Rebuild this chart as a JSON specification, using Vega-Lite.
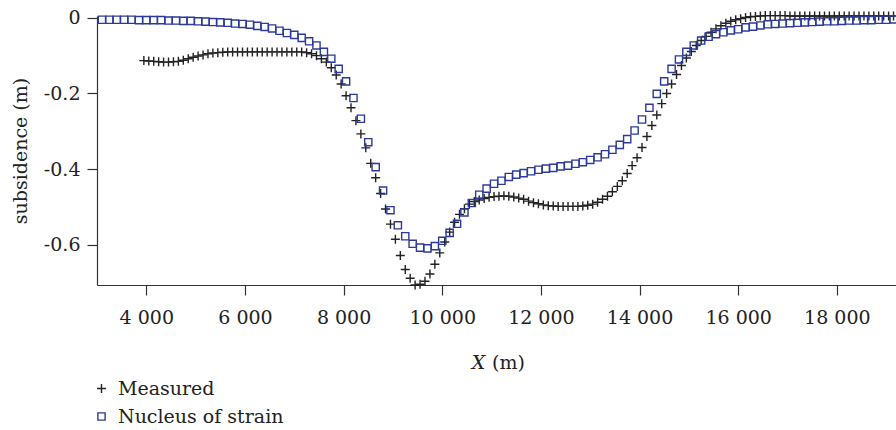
{
  "$schema": "https://vega.github.io/schema/vega-lite/v6.json",
  "width": 799,
  "height": 269,
  "autosize": "none",
  "padding": {"left": 97, "top": 16, "right": 0, "bottom": 145},
  "background": "white",
  "config": {
    "view": {"stroke": null},
    "font": "DejaVu Serif",
    "axis": {
      "domainColor": "#333333",
      "domainWidth": 1.2,
      "tickColor": "#333333",
      "tickWidth": 1.2,
      "tickSize": 10,
      "grid": false,
      "labelFont": "DejaVu Serif",
      "labelFontSize": 19,
      "labelColor": "#222222",
      "titleFont": "DejaVu Serif",
      "titleFontSize": 19,
      "titleFontWeight": "normal",
      "titleColor": "#222222"
    },
    "legend": {
      "labelFont": "DejaVu Serif",
      "labelFontSize": 19,
      "labelColor": "#222222",
      "labelLimit": 400
    }
  },
  "datasets": {
    "pts": [
      {"s":"Measured","x":3950,"y":-0.113},{"s":"Measured","x":4050,"y":-0.114},{"s":"Measured","x":4150,"y":-0.115},{"s":"Measured","x":4250,"y":-0.116},{"s":"Measured","x":4350,"y":-0.117},{"s":"Measured","x":4450,"y":-0.117},{"s":"Measured","x":4550,"y":-0.116},{"s":"Measured","x":4650,"y":-0.115},{"s":"Measured","x":4750,"y":-0.112},{"s":"Measured","x":4850,"y":-0.108},
      {"s":"Measured","x":4950,"y":-0.104},{"s":"Measured","x":5050,"y":-0.101},{"s":"Measured","x":5150,"y":-0.098},{"s":"Measured","x":5250,"y":-0.095},{"s":"Measured","x":5350,"y":-0.093},{"s":"Measured","x":5450,"y":-0.092},{"s":"Measured","x":5550,"y":-0.091},{"s":"Measured","x":5650,"y":-0.090},{"s":"Measured","x":5750,"y":-0.090},{"s":"Measured","x":5850,"y":-0.090},
      {"s":"Measured","x":5950,"y":-0.090},{"s":"Measured","x":6050,"y":-0.090},{"s":"Measured","x":6150,"y":-0.090},{"s":"Measured","x":6250,"y":-0.090},{"s":"Measured","x":6350,"y":-0.090},{"s":"Measured","x":6450,"y":-0.090},{"s":"Measured","x":6550,"y":-0.090},{"s":"Measured","x":6650,"y":-0.090},{"s":"Measured","x":6750,"y":-0.090},{"s":"Measured","x":6850,"y":-0.090},
      {"s":"Measured","x":6950,"y":-0.090},{"s":"Measured","x":7050,"y":-0.090},{"s":"Measured","x":7150,"y":-0.090},{"s":"Measured","x":7250,"y":-0.092},{"s":"Measured","x":7350,"y":-0.095},{"s":"Measured","x":7450,"y":-0.100},{"s":"Measured","x":7550,"y":-0.108},{"s":"Measured","x":7650,"y":-0.117},{"s":"Measured","x":7750,"y":-0.132},{"s":"Measured","x":7850,"y":-0.151},
      {"s":"Measured","x":7950,"y":-0.175},{"s":"Measured","x":8050,"y":-0.206},{"s":"Measured","x":8150,"y":-0.238},{"s":"Measured","x":8250,"y":-0.272},{"s":"Measured","x":8350,"y":-0.307},{"s":"Measured","x":8450,"y":-0.344},{"s":"Measured","x":8550,"y":-0.385},{"s":"Measured","x":8650,"y":-0.423},{"s":"Measured","x":8750,"y":-0.465},{"s":"Measured","x":8850,"y":-0.506},
      {"s":"Measured","x":8950,"y":-0.546},{"s":"Measured","x":9050,"y":-0.586},{"s":"Measured","x":9150,"y":-0.629},{"s":"Measured","x":9250,"y":-0.666},{"s":"Measured","x":9350,"y":-0.689},{"s":"Measured","x":9450,"y":-0.707},{"s":"Measured","x":9550,"y":-0.705},{"s":"Measured","x":9650,"y":-0.697},{"s":"Measured","x":9750,"y":-0.678},{"s":"Measured","x":9850,"y":-0.652},
      {"s":"Measured","x":9950,"y":-0.622},{"s":"Measured","x":10050,"y":-0.593},{"s":"Measured","x":10150,"y":-0.567},{"s":"Measured","x":10250,"y":-0.541},{"s":"Measured","x":10350,"y":-0.520},{"s":"Measured","x":10450,"y":-0.505},{"s":"Measured","x":10550,"y":-0.493},{"s":"Measured","x":10650,"y":-0.486},{"s":"Measured","x":10750,"y":-0.482},{"s":"Measured","x":10850,"y":-0.478},
      {"s":"Measured","x":10950,"y":-0.475},{"s":"Measured","x":11050,"y":-0.473},{"s":"Measured","x":11150,"y":-0.472},{"s":"Measured","x":11250,"y":-0.471},{"s":"Measured","x":11350,"y":-0.472},{"s":"Measured","x":11450,"y":-0.474},{"s":"Measured","x":11550,"y":-0.477},{"s":"Measured","x":11650,"y":-0.480},{"s":"Measured","x":11750,"y":-0.485},{"s":"Measured","x":11850,"y":-0.489},
      {"s":"Measured","x":11950,"y":-0.492},{"s":"Measured","x":12050,"y":-0.495},{"s":"Measured","x":12150,"y":-0.497},{"s":"Measured","x":12250,"y":-0.498},{"s":"Measured","x":12350,"y":-0.499},{"s":"Measured","x":12450,"y":-0.499},{"s":"Measured","x":12550,"y":-0.499},{"s":"Measured","x":12650,"y":-0.499},{"s":"Measured","x":12750,"y":-0.499},{"s":"Measured","x":12850,"y":-0.498},
      {"s":"Measured","x":12950,"y":-0.496},{"s":"Measured","x":13050,"y":-0.493},{"s":"Measured","x":13150,"y":-0.488},{"s":"Measured","x":13250,"y":-0.480},{"s":"Measured","x":13350,"y":-0.472},{"s":"Measured","x":13450,"y":-0.460},{"s":"Measured","x":13550,"y":-0.446},{"s":"Measured","x":13650,"y":-0.431},{"s":"Measured","x":13750,"y":-0.412},{"s":"Measured","x":13850,"y":-0.391},
      {"s":"Measured","x":13950,"y":-0.370},{"s":"Measured","x":14050,"y":-0.343},{"s":"Measured","x":14150,"y":-0.314},{"s":"Measured","x":14250,"y":-0.285},{"s":"Measured","x":14350,"y":-0.257},{"s":"Measured","x":14450,"y":-0.227},{"s":"Measured","x":14550,"y":-0.200},{"s":"Measured","x":14650,"y":-0.175},{"s":"Measured","x":14750,"y":-0.150},{"s":"Measured","x":14850,"y":-0.126},
      {"s":"Measured","x":14950,"y":-0.106},{"s":"Measured","x":15050,"y":-0.089},{"s":"Measured","x":15150,"y":-0.073},{"s":"Measured","x":15250,"y":-0.060},{"s":"Measured","x":15350,"y":-0.049},{"s":"Measured","x":15450,"y":-0.038},{"s":"Measured","x":15550,"y":-0.029},{"s":"Measured","x":15650,"y":-0.021},{"s":"Measured","x":15750,"y":-0.014},{"s":"Measured","x":15850,"y":-0.009},
      {"s":"Measured","x":15950,"y":-0.005},{"s":"Measured","x":16050,"y":-0.002},{"s":"Measured","x":16150,"y":0.001},{"s":"Measured","x":16250,"y":0.003},{"s":"Measured","x":16350,"y":0.004},{"s":"Measured","x":16450,"y":0.005},{"s":"Measured","x":16550,"y":0.006},{"s":"Measured","x":16650,"y":0.006},{"s":"Measured","x":16750,"y":0.006},{"s":"Measured","x":16850,"y":0.006},
      {"s":"Measured","x":16950,"y":0.006},{"s":"Measured","x":17050,"y":0.005},{"s":"Measured","x":17150,"y":0.005},{"s":"Measured","x":17250,"y":0.005},{"s":"Measured","x":17350,"y":0.005},{"s":"Measured","x":17450,"y":0.005},{"s":"Measured","x":17550,"y":0.005},{"s":"Measured","x":17650,"y":0.005},{"s":"Measured","x":17750,"y":0.005},{"s":"Measured","x":17850,"y":0.005},
      {"s":"Measured","x":17950,"y":0.005},{"s":"Measured","x":18050,"y":0.005},{"s":"Measured","x":18150,"y":0.005},{"s":"Measured","x":18250,"y":0.005},{"s":"Measured","x":18350,"y":0.005},{"s":"Measured","x":18450,"y":0.005},{"s":"Measured","x":18550,"y":0.005},{"s":"Measured","x":18650,"y":0.005},{"s":"Measured","x":18750,"y":0.005},{"s":"Measured","x":18850,"y":0.005},
      {"s":"Measured","x":18950,"y":0.005},{"s":"Measured","x":19050,"y":0.005},{"s":"Measured","x":19150,"y":0.005},
      {"s":"Nucleus of strain","x":3100,"y":-0.005},{"s":"Nucleus of strain","x":3250,"y":-0.005},{"s":"Nucleus of strain","x":3400,"y":-0.005},{"s":"Nucleus of strain","x":3550,"y":-0.005},{"s":"Nucleus of strain","x":3700,"y":-0.005},{"s":"Nucleus of strain","x":3850,"y":-0.006},{"s":"Nucleus of strain","x":4000,"y":-0.006},{"s":"Nucleus of strain","x":4150,"y":-0.006},{"s":"Nucleus of strain","x":4300,"y":-0.006},{"s":"Nucleus of strain","x":4450,"y":-0.007},
      {"s":"Nucleus of strain","x":4600,"y":-0.007},{"s":"Nucleus of strain","x":4750,"y":-0.008},{"s":"Nucleus of strain","x":4900,"y":-0.008},{"s":"Nucleus of strain","x":5050,"y":-0.009},{"s":"Nucleus of strain","x":5200,"y":-0.010},{"s":"Nucleus of strain","x":5350,"y":-0.011},{"s":"Nucleus of strain","x":5500,"y":-0.012},{"s":"Nucleus of strain","x":5650,"y":-0.013},{"s":"Nucleus of strain","x":5800,"y":-0.015},{"s":"Nucleus of strain","x":5950,"y":-0.016},
      {"s":"Nucleus of strain","x":6100,"y":-0.018},{"s":"Nucleus of strain","x":6250,"y":-0.021},{"s":"Nucleus of strain","x":6400,"y":-0.024},{"s":"Nucleus of strain","x":6550,"y":-0.028},{"s":"Nucleus of strain","x":6700,"y":-0.034},{"s":"Nucleus of strain","x":6850,"y":-0.040},{"s":"Nucleus of strain","x":7000,"y":-0.045},{"s":"Nucleus of strain","x":7150,"y":-0.053},{"s":"Nucleus of strain","x":7300,"y":-0.062},{"s":"Nucleus of strain","x":7450,"y":-0.073},
      {"s":"Nucleus of strain","x":7600,"y":-0.090},{"s":"Nucleus of strain","x":7750,"y":-0.108},{"s":"Nucleus of strain","x":7900,"y":-0.135},{"s":"Nucleus of strain","x":8050,"y":-0.168},{"s":"Nucleus of strain","x":8200,"y":-0.212},{"s":"Nucleus of strain","x":8350,"y":-0.267},{"s":"Nucleus of strain","x":8500,"y":-0.329},{"s":"Nucleus of strain","x":8650,"y":-0.395},{"s":"Nucleus of strain","x":8800,"y":-0.457},{"s":"Nucleus of strain","x":8950,"y":-0.509},
      {"s":"Nucleus of strain","x":9100,"y":-0.549},{"s":"Nucleus of strain","x":9250,"y":-0.578},{"s":"Nucleus of strain","x":9400,"y":-0.598},{"s":"Nucleus of strain","x":9550,"y":-0.608},{"s":"Nucleus of strain","x":9700,"y":-0.610},{"s":"Nucleus of strain","x":9850,"y":-0.604},{"s":"Nucleus of strain","x":10000,"y":-0.590},{"s":"Nucleus of strain","x":10150,"y":-0.569},{"s":"Nucleus of strain","x":10300,"y":-0.545},{"s":"Nucleus of strain","x":10450,"y":-0.515},
      {"s":"Nucleus of strain","x":10600,"y":-0.490},{"s":"Nucleus of strain","x":10750,"y":-0.468},{"s":"Nucleus of strain","x":10900,"y":-0.452},{"s":"Nucleus of strain","x":11050,"y":-0.439},{"s":"Nucleus of strain","x":11200,"y":-0.431},{"s":"Nucleus of strain","x":11350,"y":-0.421},{"s":"Nucleus of strain","x":11500,"y":-0.415},{"s":"Nucleus of strain","x":11650,"y":-0.411},{"s":"Nucleus of strain","x":11800,"y":-0.406},{"s":"Nucleus of strain","x":11950,"y":-0.402},
      {"s":"Nucleus of strain","x":12100,"y":-0.399},{"s":"Nucleus of strain","x":12250,"y":-0.397},{"s":"Nucleus of strain","x":12400,"y":-0.393},{"s":"Nucleus of strain","x":12550,"y":-0.391},{"s":"Nucleus of strain","x":12700,"y":-0.386},{"s":"Nucleus of strain","x":12850,"y":-0.382},{"s":"Nucleus of strain","x":13000,"y":-0.376},{"s":"Nucleus of strain","x":13150,"y":-0.369},{"s":"Nucleus of strain","x":13300,"y":-0.361},{"s":"Nucleus of strain","x":13450,"y":-0.349},
      {"s":"Nucleus of strain","x":13600,"y":-0.336},{"s":"Nucleus of strain","x":13750,"y":-0.321},{"s":"Nucleus of strain","x":13900,"y":-0.298},{"s":"Nucleus of strain","x":14050,"y":-0.269},{"s":"Nucleus of strain","x":14200,"y":-0.238},{"s":"Nucleus of strain","x":14350,"y":-0.201},{"s":"Nucleus of strain","x":14500,"y":-0.168},{"s":"Nucleus of strain","x":14650,"y":-0.135},{"s":"Nucleus of strain","x":14800,"y":-0.110},{"s":"Nucleus of strain","x":14950,"y":-0.090},
      {"s":"Nucleus of strain","x":15100,"y":-0.073},{"s":"Nucleus of strain","x":15250,"y":-0.060},{"s":"Nucleus of strain","x":15400,"y":-0.050},{"s":"Nucleus of strain","x":15550,"y":-0.043},{"s":"Nucleus of strain","x":15700,"y":-0.038},{"s":"Nucleus of strain","x":15850,"y":-0.033},{"s":"Nucleus of strain","x":16000,"y":-0.030},{"s":"Nucleus of strain","x":16150,"y":-0.025},{"s":"Nucleus of strain","x":16300,"y":-0.023},{"s":"Nucleus of strain","x":16450,"y":-0.020},
      {"s":"Nucleus of strain","x":16600,"y":-0.017},{"s":"Nucleus of strain","x":16750,"y":-0.016},{"s":"Nucleus of strain","x":16900,"y":-0.015},{"s":"Nucleus of strain","x":17050,"y":-0.014},{"s":"Nucleus of strain","x":17200,"y":-0.013},{"s":"Nucleus of strain","x":17350,"y":-0.012},{"s":"Nucleus of strain","x":17500,"y":-0.011},{"s":"Nucleus of strain","x":17650,"y":-0.010},{"s":"Nucleus of strain","x":17800,"y":-0.009},{"s":"Nucleus of strain","x":17950,"y":-0.009},
      {"s":"Nucleus of strain","x":18100,"y":-0.008},{"s":"Nucleus of strain","x":18250,"y":-0.007},{"s":"Nucleus of strain","x":18400,"y":-0.007},{"s":"Nucleus of strain","x":18550,"y":-0.006},{"s":"Nucleus of strain","x":18700,"y":-0.006},{"s":"Nucleus of strain","x":18850,"y":-0.005},{"s":"Nucleus of strain","x":19000,"y":-0.005},{"s":"Nucleus of strain","x":19150,"y":-0.004}
    ]
  },
  "data": {"name": "pts"},
  "resolve": {"axis": {"x": "independent"}},
  "layer": [
    {
      "mark": {"type": "point", "filled": false, "strokeWidth": 1.4, "opacity": 1},
      "encoding": {
        "x": {
          "field": "x", "type": "quantitative",
          "scale": {"domain": [3000, 19200], "nice": false, "zero": false},
          "axis": {
            "orient": "bottom",
            "values": [4000, 6000, 8000, 10000, 12000, 14000, 16000, 18000],
            "labelExpr": "replace(format(datum.value, ','), ',', ' ')",
            "labelPadding": 13,
            "title": "X",
            "titleFontStyle": "italic",
            "titleX": 381,
            "titleY": 83,
            "titleBaseline": "alphabetic",
            "titleAlign": "center"
          }
        },
        "y": {
          "field": "y", "type": "quantitative",
          "scale": {"domain": [-0.707, 0.005], "nice": false, "zero": false},
          "axis": {
            "values": [0, -0.2, -0.4, -0.6],
            "labelExpr": "datum.value == 0 ? '0' : '-' + format(-datum.value, '.1f')",
            "labelPadding": 7,
            "title": "subsidence (m)",
            "titlePadding": 13
          }
        },
        "shape": {
          "field": "s", "type": "nominal",
          "scale": {"domain": ["Measured", "Nucleus of strain"], "range": ["M-1,0H1M0,-1V1", "square"]},
          "legend": {
            "title": null,
            "orient": "none",
            "legendX": -5,
            "legendY": 363,
            "padding": 0,
            "rowPadding": 8,
            "labelOffset": 7,
            "labelLimit": 400,
            "symbolStrokeWidth": 1.4
          }
        },
        "color": {
          "field": "s", "type": "nominal",
          "scale": {"domain": ["Measured", "Nucleus of strain"], "range": ["#222222", "#2b3a9c"]},
          "legend": {
            "title": null,
            "orient": "none",
            "legendX": -5,
            "legendY": 363,
            "padding": 0,
            "rowPadding": 8,
            "labelOffset": 7,
            "labelLimit": 400,
            "symbolStrokeWidth": 1.4
          }
        },
        "size": {
          "field": "s", "type": "nominal",
          "scale": {"domain": ["Measured", "Nucleus of strain"], "range": [81, 52]},
          "legend": null
        }
      }
    },
    {
      "mark": {"type": "point", "opacity": 0},
      "encoding": {
        "x": {
          "field": "x", "type": "quantitative",
          "axis": {
            "orient": "bottom",
            "domain": false,
            "ticks": false,
            "labels": false,
            "title": "(m)",
            "titleX": 411,
            "titleY": 83,
            "titleBaseline": "alphabetic",
            "titleAlign": "center"
          }
        }
      }
    }
  ]
}
